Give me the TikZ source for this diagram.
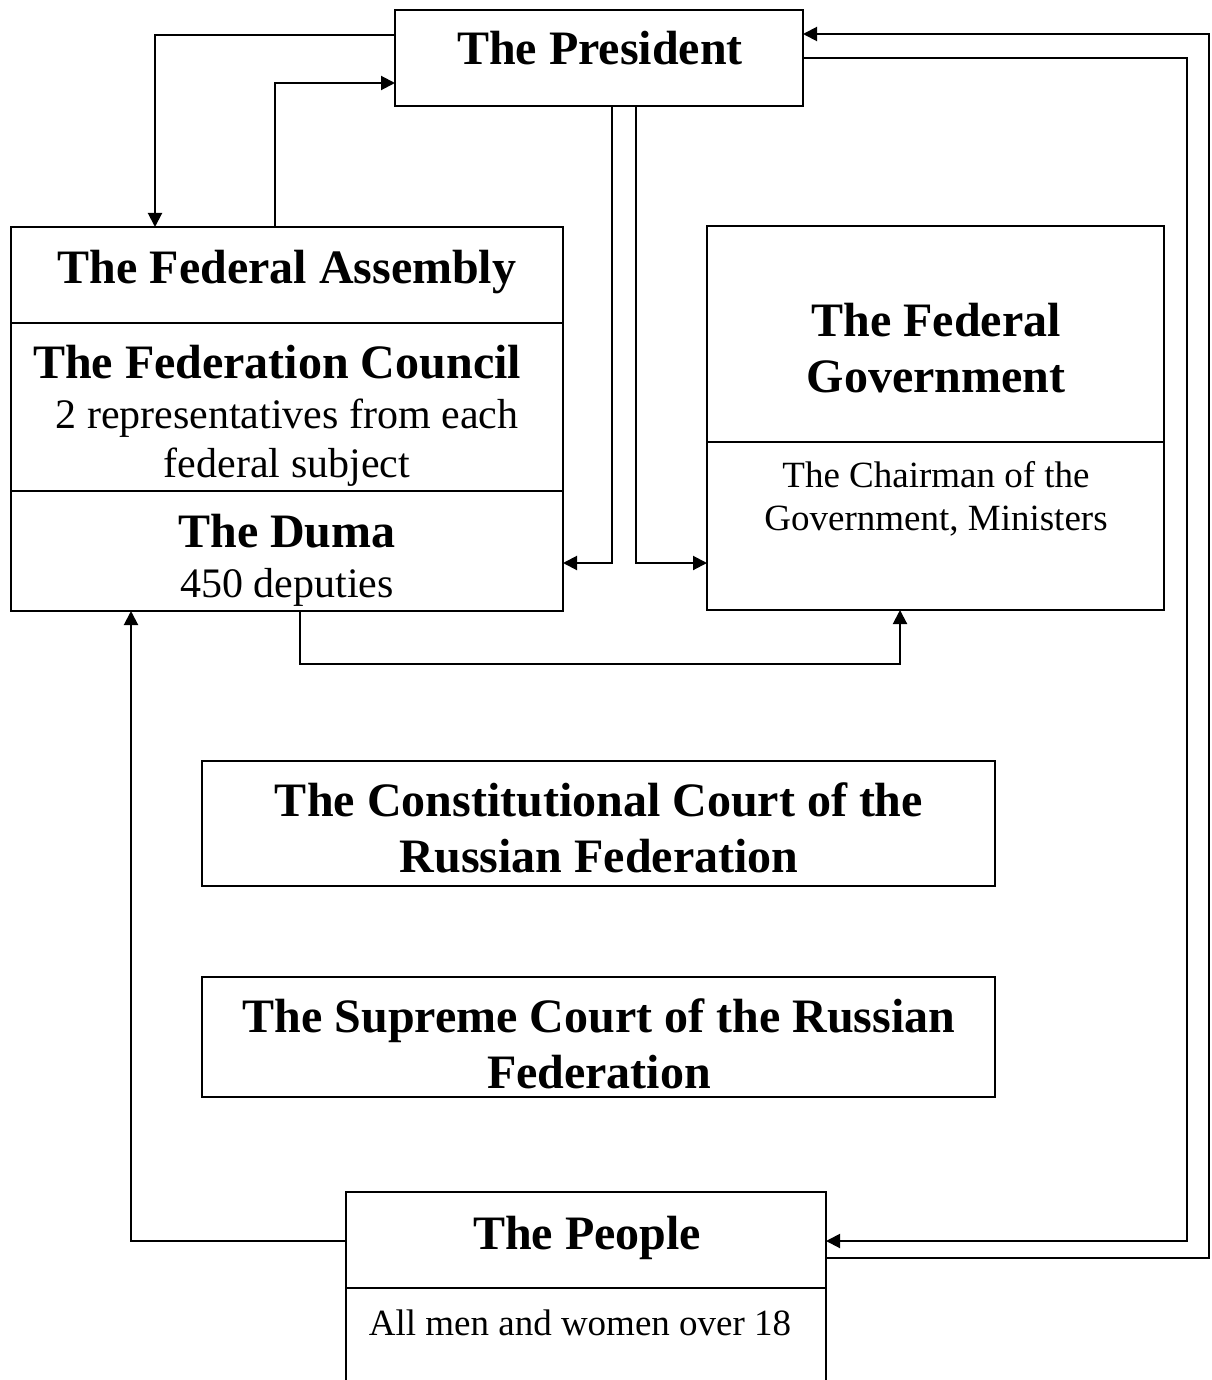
\documentclass[tikz,border=0pt]{standalone}
\usepackage{fontspec}
\setmainfont{Liberation Serif}
\usetikzlibrary{arrows.meta}
\tikzset{
  box/.style={draw, line width=1pt, inner sep=0pt, outer sep=0pt},
  ttl/.style={font=\bfseries\fontsize{24}{28}\selectfont, inner sep=0pt, anchor=base},
  sub/.style={font=\fontsize{21}{25}\selectfont, inner sep=0pt, anchor=base},
  note/.style={font=\fontsize{18.5}{22}\selectfont, inner sep=0pt, anchor=base},
  link/.style={line width=1pt, -{Triangle[length=7pt,width=7pt]}},
  rule/.style={line width=1pt}
}
\begin{document}
\begin{tikzpicture}[x=0.5pt,y=-0.5pt]
      \fill[white] (0,0) rectangle (1211,1380);
      \useasboundingbox (0,0) rectangle (1211,1380);
      \clip (0,0) rectangle (1211,1380);
      \node[box, minimum width=204pt, minimum height=48pt] (pres) at (599,58) {};
      \node[box, minimum width=276pt, minimum height=192pt] (asm) at (287,419) {};
      \node[box, minimum width=228.5pt, minimum height=192pt] (gov) at (935.5,418) {};
      \node[box, minimum width=396.5pt, minimum height=62.5pt] (cc) at (598.5,823.5) {};
      \node[box, minimum width=396.5pt, minimum height=60pt] (sc) at (598.5,1037) {};
      \node[box, minimum width=240pt, minimum height=104pt] (ppl) at (586,1296) {};
      \draw[rule] (asm.west |- 0,323) -- (asm.east |- 0,323);
      \draw[rule] (asm.west |- 0,491) -- (asm.east |- 0,491);
      \draw[rule] (gov.west |- 0,442) -- (gov.east |- 0,442);
      \draw[rule] (ppl.west |- 0,1288) -- (ppl.east |- 0,1288);
      \node[ttl] (pres-t) at (600,65) {The President};
      \node[ttl] (asm-t) at (287,283) {The Federal Assembly};
      \node[ttl] (fc-t) at (277,378) {The Federation Council};
      \node[sub] (fc-l1) at (287,428) {2 representatives from each};
      \node[sub] (fc-l2) at (287,477) {federal subject};
      \node[ttl] (duma-t) at (287,547) {The Duma};
      \node[sub] (duma-l) at (287,597) {450 deputies};
      \node[ttl] (gov-t1) at (936,336) {The Federal};
      \node[ttl] (gov-t2) at (936,392) {Government};
      \node[note] (gov-l1) at (936,487) {The Chairman of the};
      \node[note] (gov-l2) at (936,530) {Government, Ministers};
      \node[ttl] (cc-t1) at (599,816) {The Constitutional Court of the};
      \node[ttl] (cc-t2) at (599,872) {Russian Federation};
      \node[ttl] (sc-t1) at (599,1032) {The Supreme Court of the Russian};
      \node[ttl] (sc-t2) at (599,1088) {Federation};
      \node[ttl] (ppl-t) at (587,1249) {The People};
      \node[note] (ppl-l) at (580,1335) {All men and women over 18};
      \draw[link] (pres.west |- 0,35) -| (155,0 |- asm.north);
      \draw[link] (275,0 |- asm.north) |- (pres.west |- 0,83);
      \draw[link] (612,0 |- pres.south) |- (asm.east |- 0,563);
      \draw[link] (636,0 |- pres.south) |- (gov.west |- 0,563);
      \draw[link] (300,0 |- asm.south) -- (300,664) -| (900,0 |- gov.south);
      \draw[link] (ppl.west |- 0,1241) -| (131,0 |- asm.south);
      \draw[link] (ppl.east |- 0,1258) -| (1209,34) -- (pres.east |- 0,34);
      \draw[link] (pres.east |- 0,58) -| (1187,1241) -- (ppl.east |- 0,1241);
    \end{tikzpicture}
\end{document}
